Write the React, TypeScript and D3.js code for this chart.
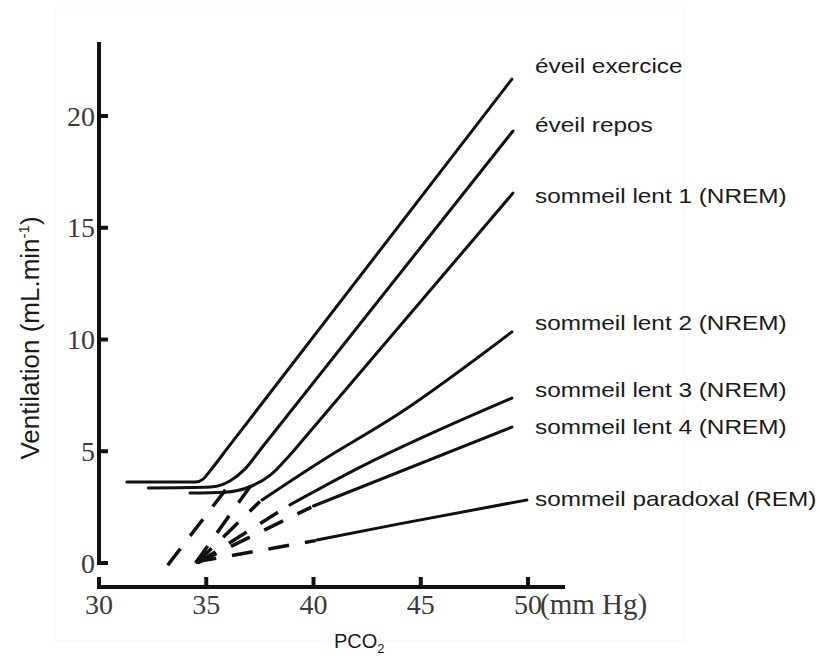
import React from "react";
import * as d3 from "d3";

// PCO2 (mm Hg) vs ventilation
const xTicks = [30, 35, 40, 45, 50];
const yTicks = [0, 5, 10, 15, 20];

const labels = [
  "éveil exercice",
  "éveil repos",
  "sommeil lent 1 (NREM)",
  "sommeil lent 2 (NREM)",
  "sommeil lent 3 (NREM)",
  "sommeil lent 4 (NREM)",
  "sommeil paradoxal (REM)",
];

const eveilExercice = [[31.3, 3.62], [34.5, 3.62], [34.85, 3.75], [35.2, 4.15], [36.0, 5.15], [49.25, 21.65]];
const eveilRepos = [[32.3, 3.36], [35.2, 3.4], [36.1, 3.67], [36.8, 4.2], [37.6, 5.17], [49.3, 19.33]];
const lent1 = [[34.24, 3.13], [35.9, 3.17], [37.0, 3.4], [38.0, 3.94], [38.9, 4.83], [39.7, 5.73], [49.3, 16.55]];
const lent2 = [[37.6, 2.82], [40.3, 4.52], [44.03, 6.71], [49.25, 10.34]];
const lent3 = [[38.9, 2.6], [42.2, 4.3], [49.25, 7.38]];
const lent4 = [[40.0, 2.55], [49.25, 6.08]];
const paradoxal = [[40.15, 1.03], [44.0, 1.75], [49.95, 2.82]];

// dashed extrapolations toward the apnea threshold
const dashRepos = [[33.2, -0.1], [35.97, 3.36]];
const dashLent1 = [[34.5, 0], [37.1, 3.5]];
const dashLent2 = [[34.55, 0], [37.5, 2.75]];
const dashLent3 = [[34.6, 0], [38.8, 2.55]];
const dashLent4 = [[34.6, 0.02], [39.9, 2.5]];
const dashParadoxal = [[34.5, 0.05], [40.1, 1.0]];

const solidLines = [eveilExercice, eveilRepos, lent1, lent2, lent3, lent4, paradoxal];
const dashLines = [dashRepos, dashLent1, dashLent2, dashLent3, dashLent4, dashParadoxal];

export default function App() {
  const width = 820,
    height = 662;

  const x = d3.scaleLinear().domain([30, 50]).range([99, 528]);
  const y = d3.scaleLinear().domain([0, 20]).range([563, 116]);

  const line = d3
    .line<number[]>()
    .x((d) => x(d[0]))
    .y((d) => y(d[1]))
    .curve(d3.curveMonotoneX);

  const straight = d3
    .line<number[]>()
    .x((d) => x(d[0]))
    .y((d) => y(d[1]));

  const xAxisY = 587;
  const labelX = 535;
  const labelNudge = [-6, 1, 10, -2, -1, 7, 6];
  const serif = "'Liberation Serif', 'Times New Roman', serif";
  const sans = "'Liberation Sans', Arial, sans-serif";

  return (
    <svg
      width={width}
      height={height}
      style={{ position: "absolute", left: 0, top: 0, background: "#fff" }}
    >
      <rect x={55} y={8} width={629} height={633} fill="none" stroke="#f5f5f5" strokeWidth={1} />

      {/* y axis */}
      <line x1={x(30)} x2={x(30)} y1={42} y2={y(0)} stroke="#111" strokeWidth={4} />
      {yTicks.map((t) => (
        <g key={t} transform={`translate(0,${y(t)})`}>
          <line x1={x(30) - 2} x2={x(30) + 9} stroke="#111" strokeWidth={4} />
          <text
            x={95}
            dy="0.34em"
            textAnchor="end"
            fontFamily={serif}
            fontSize={28}
            fill="#3a3a3a"
          >
            {t}
          </text>
        </g>
      ))}

      {/* x axis */}
      <line x1={x(30) - 2} x2={565} y1={xAxisY} y2={xAxisY} stroke="#111" strokeWidth={4} />
      {xTicks.map((t) => (
        <g key={t} transform={`translate(${x(t)},0)`}>
          <line y1={xAxisY} y2={xAxisY - 10} stroke="#111" strokeWidth={4} />
          <text y={614} textAnchor="middle" fontFamily={serif} fontSize={28} fill="#3a3a3a">
            {t}
          </text>
        </g>
      ))}
      <text x={x(50) + 12} y={614} fontFamily={serif} fontSize={29} fill="#3a3a3a">
        (mm Hg)
      </text>

      {/* axis titles */}
      <text x={334} y={648} fontFamily={sans} fontSize={20} fill="#1a1a1a">
        PCO
        <tspan dy={5} fontSize={13}>
          2
        </tspan>
      </text>
      <text
        transform={`translate(39,338) rotate(-90)`}
        textAnchor="middle"
        fontFamily={sans}
        fontSize={26}
        fill="#1a1a1a"
      >
        Ventilation (mL.min
        <tspan dy={-10} fontSize={15}>
          -1
        </tspan>
        <tspan dy={10}>)</tspan>
      </text>

      {/* dashed extrapolations */}
      {dashLines.map((d, i) => (
        <path
          key={i}
          d={straight(d) ?? ""}
          fill="none"
          stroke="#111"
          strokeWidth={3.5}
          strokeDasharray="21 16"
        />
      ))}

      {/* response curves */}
      {solidLines.map((d, i) => (
        <path
          key={i}
          d={line(d) ?? ""}
          fill="none"
          stroke="#111"
          strokeWidth={3}
          strokeLinecap="round"
        />
      ))}

      {/* curve labels */}
      {solidLines.map((d, i) => {
        const last = d[d.length - 1];
        return (
          <text
            key={labels[i]}
            transform={`translate(${labelX},${y(last[1]) + labelNudge[i]}) scale(1.16,1)`}
            fontFamily={sans}
            fontSize={21}
            fill="#1a1a1a"
          >
            {labels[i]}
          </text>
        );
      })}
    </svg>
  );
}
